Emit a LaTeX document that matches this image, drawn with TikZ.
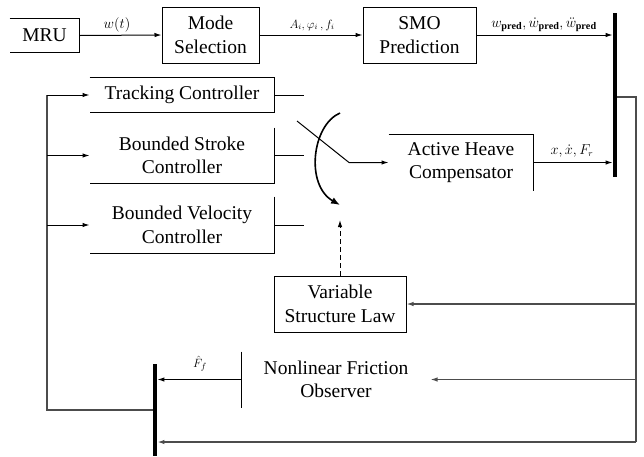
\documentclass[tikz,border=0pt]{standalone}
\usepackage{fontspec}
\setmainfont{Liberation Serif}
\usetikzlibrary{arrows.meta}
\begin{document}
\begin{tikzpicture}[x=1pt,y=-1pt,
  blk/.style={font=\rmfamily\fontsize{19.5}{23.5}\selectfont, align=center, inner sep=0pt, line width=1pt},
  edge/.style={line width=1pt, black},
  arr/.style={edge, -{Latex[length=7pt,width=4.5pt]}},
  sig/.style={font=\fontsize{12}{14}\selectfont, inner sep=0pt},
  busbar/.style={fill=black, draw=none, minimum width=4.5pt, inner sep=0pt},
  fb/.style={line width=1.3pt, black!70},
  fbarr/.style={fb, -{Latex[length=7pt,width=4.5pt]}}]
\useasboundingbox (0,0) rectangle (644,456);

% blocks
\node[blk, minimum width=69pt, minimum height=33pt] (mru) at (44.5,35.5) {MRU};
\draw[edge] (mru.north west) -- (mru.north east) -- (mru.south east) -- (mru.south west);
\node[blk, draw, minimum width=97pt, minimum height=56pt] (ms) at (210.5,35) {Mode\\Selection};
\node[blk, draw, minimum width=113pt, minimum height=56pt] (smo) at (419.5,35) {SMO\\Prediction};
\node[blk, minimum width=184pt, minimum height=34pt] (tc) at (182,95) {Tracking Controller};
\draw[edge] (tc.north west) -- (tc.north east) -- (tc.south east) -- (tc.south west);
\node[blk, minimum width=184pt, minimum height=55pt] (bsc) at (182,155.5) {Bounded Stroke\\Controller};
\draw[edge] (bsc.north east) -- (bsc.south east) -- (bsc.south west);
\node[blk, minimum width=184pt, minimum height=56pt] (bvc) at (182,225) {Bounded Velocity\\Controller};
\draw[edge] (bvc.north east) -- (bvc.south east) -- (bvc.south west);
\node[blk, minimum width=144pt, minimum height=55pt] (ahc) at (461,162.5) {Active Heave\\Compensator};
\draw[edge] (ahc.north west) -- (ahc.north east) -- (ahc.south east);
\node[blk, draw, minimum width=132pt, minimum height=56pt] (vsl) at (340,304) {Variable\\Structure Law};
\node[blk, minimum width=188pt, minimum height=55pt] (nfo) at (336,379.5) {Nonlinear Friction\\Observer};
\draw[edge] (nfo.north west) -- (nfo.south west);

% bus bars
\node[busbar, minimum height=164pt] (bus1) at (615,95) {};
\node[busbar, minimum height=92pt] (bus2) at (155,410) {};

% forward path
\draw[arr] (mru.east) -- (ms.west);
\node[sig, font=\fontsize{14}{16}\selectfont] (lw) at (117,25) {$w(t)$};
\draw[arr] (ms.east) -- (smo.west);
\node[sig] (la) at (312,25) {$A_i,\varphi_i\,,f_i$};
\draw[arr] (smo.east) -- (smo.east -| bus1.west);
\node[sig, font=\fontsize{14.5}{16}\selectfont] (lp) at (544,25) {$w_{\mathbf{pred}},\dot w_{\mathbf{pred}},\ddot w_{\mathbf{pred}}$};
\draw[arr] (ahc.east) -- (ahc.east -| bus1.west);
\node[sig, font=\fontsize{13.5}{16}\selectfont] (lx) at (572,151) {$x,\dot x,F_r$};

% switch contacts
\draw[edge] (tc.east) -- ++(29,0);
\draw[edge] (bsc.east) -- ++(29,0);
\draw[edge] (bvc.east) -- ++(29,0);
\coordinate (sw0) at (297,121);
\coordinate (sw1) at (349,162.5);
\draw[arr] (sw0) -- (sw1) -- (sw1 -| ahc.west);
\coordinate (cs) at (340,113);
\coordinate (ce) at (340,205);
\draw[line width=1.6pt, -{Latex[length=9pt,width=7pt]}] (cs) .. controls (312,125) and (305,185) .. (ce);
\coordinate (dt) at (340,220);
\draw[edge, dash pattern=on 5pt off 3pt, -{Latex[length=7pt,width=4.5pt]}] (vsl.north) -- (dt);

% feedback on the right
\coordinate (r1) at (636,97);
\coordinate (r2) at (636,442);
\draw[fb] (bus1.east |- r1) -- (r1) -- (r2);
\draw[fbarr] (r1 |- vsl.east) -- (vsl.east);
\draw[fbarr] (r1 |- nfo.east) -- (nfo.east);
\draw[fbarr] (r2) -- (r2 -| bus2.east);
\draw[arr] (nfo.west) -- (nfo.west -| bus2.east);
\node[sig, font=\fontsize{13}{15}\selectfont] (lf) at (200,364) {$\hat F_f$};

% feedback on the left
\coordinate (l1) at (47,410);
\coordinate (l2) at (47,94.5);
\draw[fb] (bus2.west |- l1) -- (l1) -- (l2);
\draw[arr] (l2 |- tc.west) -- (tc.west);
\draw[arr] (l2 |- bsc.west) -- (bsc.west);
\draw[arr] (l2 |- bvc.west) -- (bvc.west);
\end{tikzpicture}
\end{document}
